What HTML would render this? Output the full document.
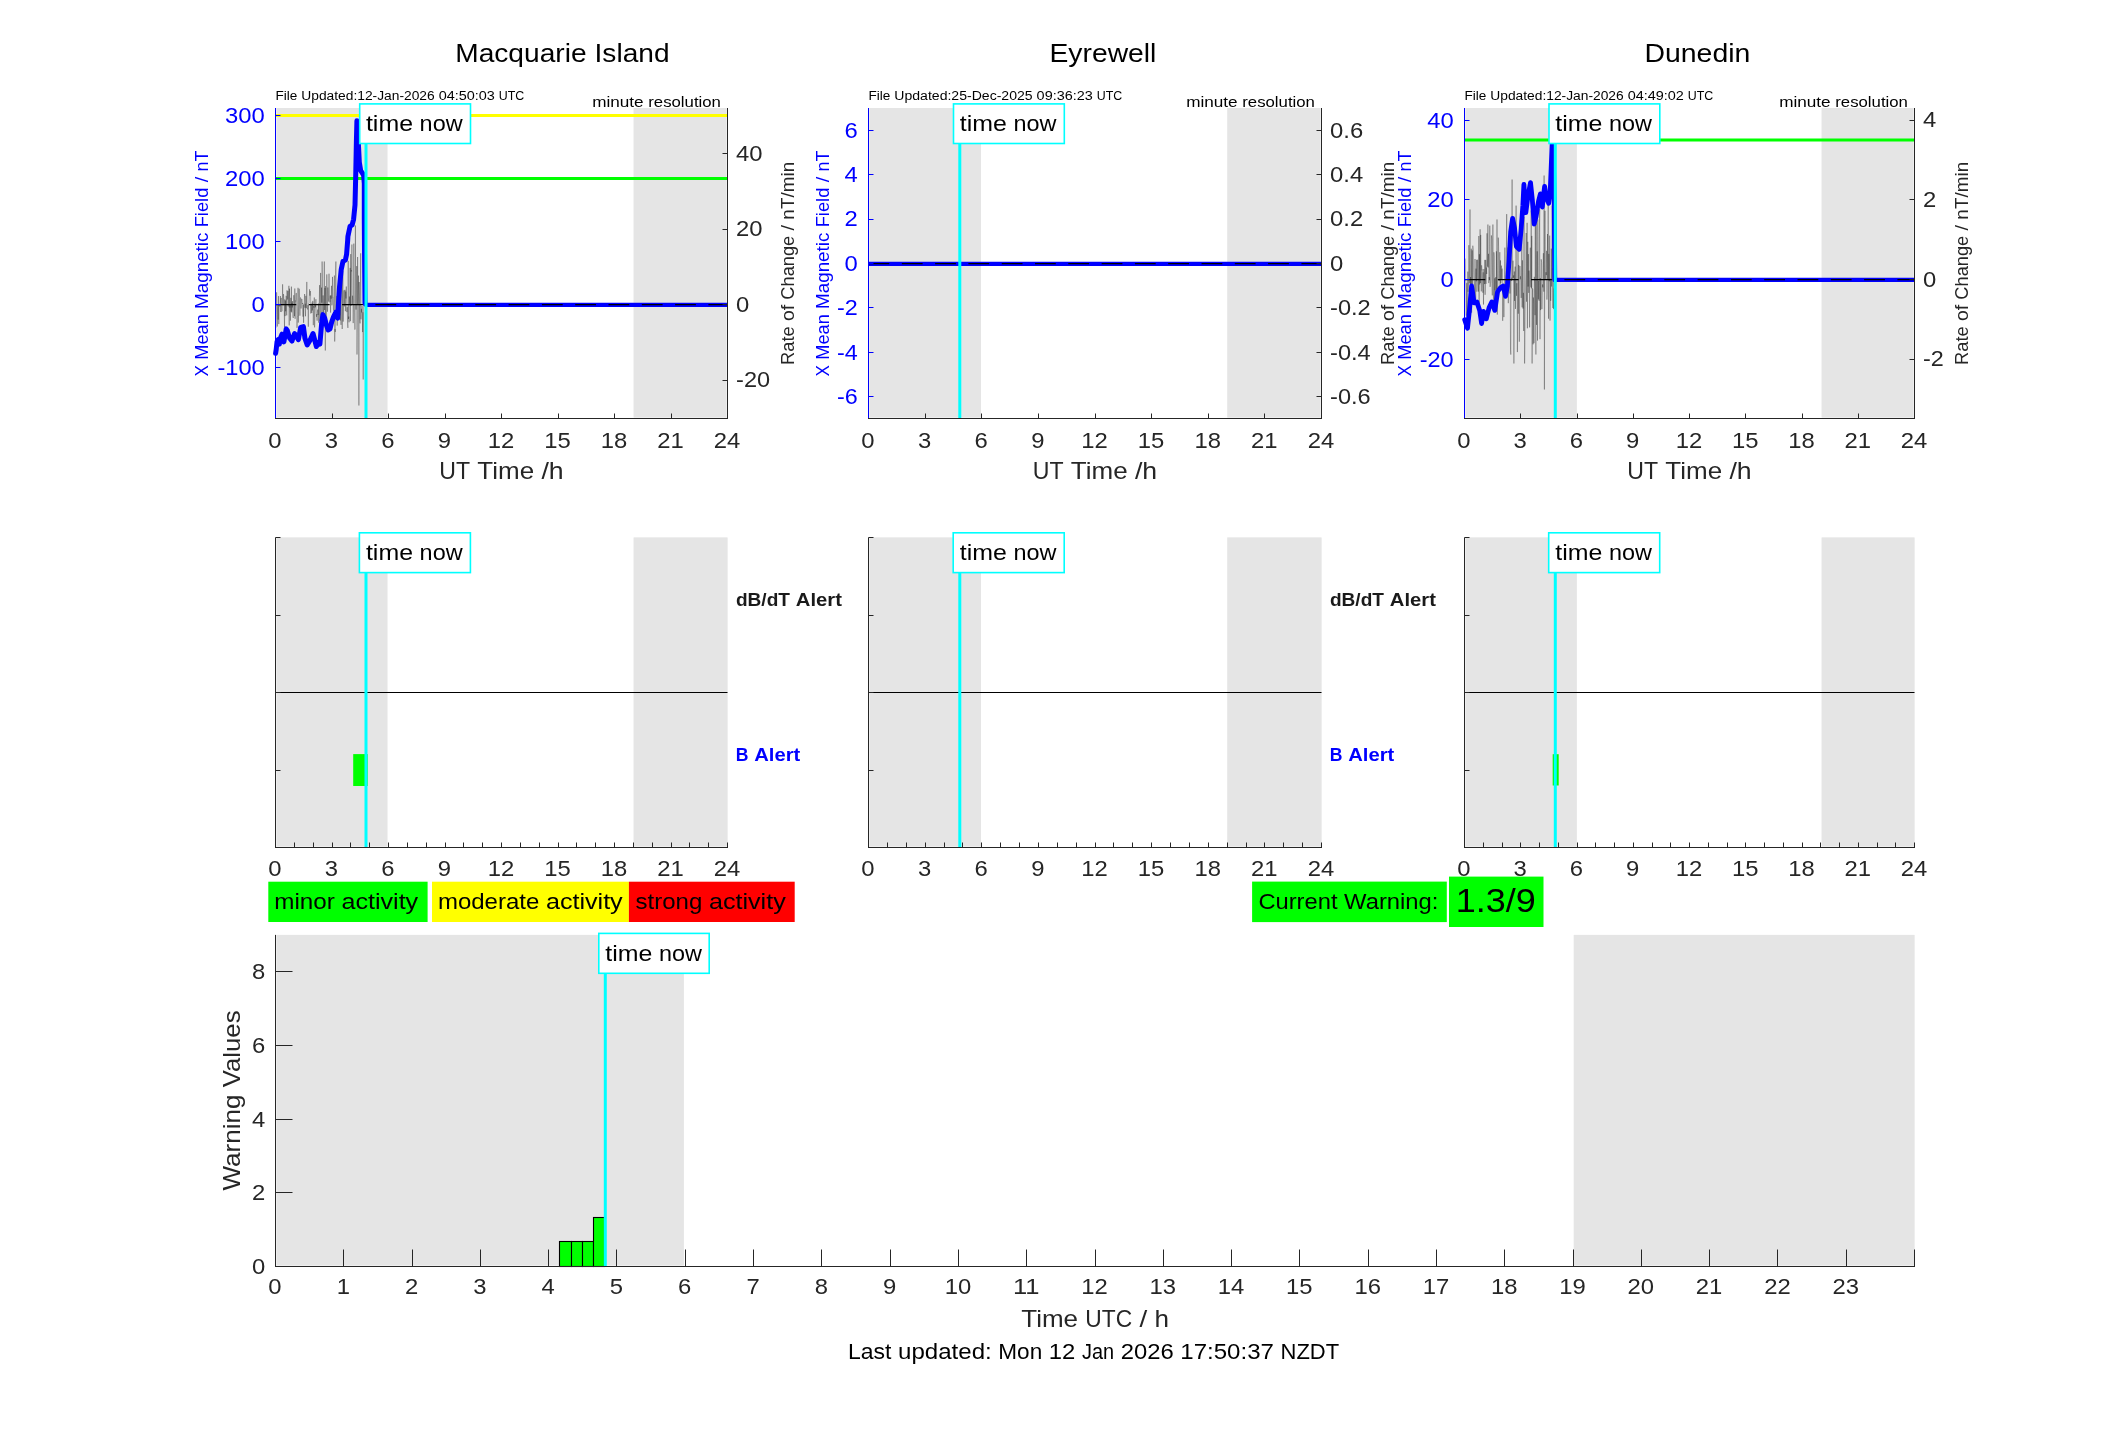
<!DOCTYPE html>
<html><head><meta charset="utf-8"><title>Geomagnetic Activity</title>
<style>
html,body{margin:0;padding:0;background:#fff;}
body{width:2117px;height:1437px;overflow:hidden;}
svg{display:block;font-family:"Liberation Sans",sans-serif;will-change:transform;}
</style></head><body>
<svg width="2117" height="1437" viewBox="0 0 2117 1437">
<rect x="0" y="0" width="2117" height="1437" fill="#ffffff"/>
<rect x="276.00" y="108.00" width="111.40" height="310.00" fill="#eeeeee" />
<rect x="277.00" y="108.00" width="110.40" height="309.00" fill="#e5e5e5" />
<rect x="633.70" y="108.00" width="93.30" height="310.00" fill="#eeeeee" />
<rect x="633.70" y="108.00" width="92.30" height="309.00" fill="#e5e5e5" />
<line x1="275.50" y1="115.50" x2="727.50" y2="115.50" stroke="#ffff00" stroke-width="3.0" />
<line x1="275.50" y1="178.50" x2="727.50" y2="178.50" stroke="#00ff00" stroke-width="3.0" />
<polyline points="276.0,327.8 276.3,314.4 276.6,292.3 276.9,302.1 277.3,326.5 277.6,306.4 277.9,305.1 278.2,319.6 278.5,296.1 278.8,324.1 279.1,307.7 279.5,304.1 279.8,306.5 280.1,302.0 280.4,296.0 280.7,312.0 281.0,299.8 281.3,297.9 281.6,311.6 282.0,311.3 282.3,310.6 282.6,284.3 282.9,302.0 283.2,305.3 283.5,294.1 283.8,297.4 284.2,308.3 284.5,327.0 284.8,299.4 285.1,316.1 285.4,300.5 285.7,311.3 286.0,295.8 286.4,296.7 286.7,315.4 287.0,290.3 287.3,299.5 287.6,298.5 287.9,291.0 288.2,306.5 288.6,294.9 288.9,285.8 289.2,325.4 289.5,288.6 289.8,307.6 290.1,305.0 290.4,320.7 290.8,297.8 291.1,311.6 291.4,286.6 291.7,312.4 292.0,302.8 292.3,307.5 292.6,301.1 292.9,316.8 293.3,318.0 293.6,295.5 293.9,295.2 294.2,302.6 294.5,316.2 294.8,288.5 295.1,318.8 295.5,300.7 295.8,301.3 296.1,293.2 296.4,293.1 296.7,308.5 297.0,327.9 297.3,317.0 297.7,315.7 298.0,287.8 298.3,322.6 298.6,311.4 298.9,304.7 299.2,288.7 299.5,297.4 299.9,315.7 300.2,303.3 300.5,297.5 300.8,298.6 301.1,308.5 301.4,301.9 301.7,299.0 302.0,299.1 302.4,303.9 302.7,303.0 303.0,316.7 303.3,304.6 303.6,322.8 303.9,305.0 304.2,303.5 304.6,294.0 304.9,307.7 305.2,303.7 305.5,316.3 305.8,295.8 306.1,307.8 306.4,308.1 306.8,281.9 307.1,307.7 307.4,309.3 307.7,309.3 308.0,305.0 308.3,326.7 308.6,303.2 309.0,302.7 309.3,295.7 309.6,289.3 309.9,295.7 310.2,291.5 310.5,291.0 310.8,313.5 311.1,305.0 311.5,309.5 311.8,313.0 312.1,302.5 312.4,310.5 312.7,300.9 313.0,302.1 313.3,325.2 313.7,306.1 314.0,307.8 314.3,297.5 314.6,327.4 314.9,318.8 315.2,304.2 315.5,307.3 315.9,299.2 316.2,309.9 316.5,316.8 316.8,314.0 317.1,320.7 317.4,312.2 317.7,309.6 318.1,315.0 318.4,303.5 318.7,322.7 319.0,307.0 319.3,299.1 319.6,285.1 319.9,321.0 320.2,302.8 320.6,272.9 320.9,300.2 321.2,324.2 321.5,287.6 321.8,302.7 322.1,261.5 322.4,278.4 322.8,318.5 323.1,295.4 323.4,308.4 323.7,316.4 324.0,293.0 324.3,261.5 324.6,310.0 325.0,287.9 325.3,350.5 325.6,286.0 325.9,303.8 326.2,325.8 326.5,306.7 326.8,274.4 327.2,301.4 327.5,311.7 327.8,287.5 328.1,294.3 328.4,301.6 328.7,295.8 329.0,273.7 329.4,294.4 329.7,302.3 330.0,301.6 330.3,295.6 330.6,312.6 330.9,295.4 331.2,298.7 331.5,285.8 331.9,305.3 332.2,302.8 332.5,276.9 332.8,297.3 333.1,297.1 333.4,309.1 333.7,310.8 334.1,291.8 334.4,275.5 334.7,341.5 335.0,328.9 335.3,331.9 335.6,270.4 335.9,261.5 336.3,316.0 336.6,309.5 336.9,296.0 337.2,325.6 337.5,305.0 337.8,296.0 338.1,291.7 338.5,283.1 338.8,307.1 339.1,307.1 339.4,301.6 339.7,315.3 340.0,271.8 340.3,320.5 340.6,302.5 341.0,324.9 341.3,298.7 341.6,268.7 341.9,272.6 342.2,329.0 342.5,298.2 342.8,270.7 343.2,321.6 343.5,308.0 343.8,292.3 344.1,290.3 344.4,306.4 344.7,297.4 345.0,289.8 345.4,311.2 345.7,291.5 346.0,298.5 346.3,286.5 346.6,303.7 346.9,312.1 347.2,307.2 347.6,323.4 347.9,327.9 348.2,260.9 348.5,318.9 348.8,316.6 349.1,322.3 349.4,296.5 349.8,305.1 350.1,267.9 350.4,321.2 350.7,254.1 351.0,305.9 351.3,270.3 351.6,271.4 351.9,244.5 352.3,304.5 352.6,295.7 352.9,299.8 353.2,323.1 353.5,304.4 353.8,243.6 354.1,290.4 354.5,312.7 354.8,329.6 355.1,329.1 355.4,225.5 355.7,303.0 356.0,309.6 356.3,303.8 356.7,266.1 357.0,354.5 357.3,321.0 357.6,257.0 357.9,304.8 358.2,291.0 358.5,275.6 358.9,405.5 359.2,282.0 359.5,301.1 359.8,319.5 360.1,323.4 360.4,287.3 360.7,253.3 361.0,319.3 361.4,308.8 361.7,312.5 362.0,306.0 362.3,307.5 362.6,332.1 362.9,312.3 363.2,379.5 363.6,306.6 363.9,288.8 364.2,293.9 364.5,270.6" fill="none" stroke="#000000" stroke-width="0.45" stroke-opacity="0.6"/>
<polyline points="275.6,353.4 276.2,349.5 277.0,341.9 278.1,339.6 279.3,344.2 280.4,338.1 282.0,334.2 283.9,341.9 286.2,328.9 287.3,330.4 289.6,338.1 291.9,341.1 294.6,333.5 298.4,339.6 300.7,327.3 303.4,326.6 304.9,338.1 307.2,344.9 309.9,340.4 313.0,333.5 316.4,346.5 319.3,341.8 319.9,344.1 321.7,322.8 322.9,314.6 324.7,318.1 326.4,325.2 328.2,330.0 330.0,328.8 331.8,321.7 333.5,316.9 335.9,312.2 337.7,318.1 338.3,306.3 339.5,287.3 341.2,269.6 343.0,261.3 345.4,260.1 346.6,254.2 347.7,240.0 347.9,236.4 350.0,226.4 352.1,225.0 353.6,219.3 355.0,205.0 355.7,176.4 356.4,140.7 356.9,120.7 357.9,133.6 358.6,147.9 359.3,162.1 360.7,170.7 363.6,175.0 364.3,183.6 364.3,219.3 364.6,262.1 365.0,303.6" fill="none" stroke="#0000ff" stroke-width="5.0" stroke-linejoin="round" stroke-linecap="round"/>
<polyline points="365.0,303.6 366.0,304.9 727.5,304.9" fill="none" stroke="#0000ff" stroke-width="4.3" stroke-linejoin="round"/>
<line x1="275.50" y1="304.50" x2="727.50" y2="304.50" stroke="#000000" stroke-width="1.25" stroke-dasharray="20.8 12.5"/>
<line x1="366.00" y1="108.00" x2="366.00" y2="418.50" stroke="#00ffff" stroke-width="3.0" />
<line x1="275.50" y1="108.00" x2="275.50" y2="419.00" stroke="#0000ff" stroke-width="1.0" />
<line x1="727.50" y1="108.00" x2="727.50" y2="419.00" stroke="#262626" stroke-width="1.0" />
<line x1="275.00" y1="418.50" x2="728.00" y2="418.50" stroke="#262626" stroke-width="1.0" />
<text y="447.80" style="font-size:22.08px;fill:#262626"><tspan x="268.37" textLength="13.25" lengthAdjust="spacingAndGlyphs">0</tspan></text>
<line x1="332.50" y1="418.50" x2="332.50" y2="413.50" stroke="#262626" stroke-width="1.0" />
<text y="447.80" style="font-size:22.08px;fill:#262626"><tspan x="324.87" textLength="13.25" lengthAdjust="spacingAndGlyphs">3</tspan></text>
<line x1="388.50" y1="418.50" x2="388.50" y2="413.50" stroke="#262626" stroke-width="1.0" />
<text y="447.80" style="font-size:22.08px;fill:#262626"><tspan x="381.37" textLength="13.25" lengthAdjust="spacingAndGlyphs">6</tspan></text>
<line x1="445.50" y1="418.50" x2="445.50" y2="413.50" stroke="#262626" stroke-width="1.0" />
<text y="447.80" style="font-size:22.08px;fill:#262626"><tspan x="437.87" textLength="13.25" lengthAdjust="spacingAndGlyphs">9</tspan></text>
<line x1="501.50" y1="418.50" x2="501.50" y2="413.50" stroke="#262626" stroke-width="1.0" />
<text y="447.80" style="font-size:22.08px;fill:#262626"><tspan x="487.75" textLength="26.51" lengthAdjust="spacingAndGlyphs">12</tspan></text>
<line x1="558.50" y1="418.50" x2="558.50" y2="413.50" stroke="#262626" stroke-width="1.0" />
<text y="447.80" style="font-size:22.08px;fill:#262626"><tspan x="544.25" textLength="26.51" lengthAdjust="spacingAndGlyphs">15</tspan></text>
<line x1="614.50" y1="418.50" x2="614.50" y2="413.50" stroke="#262626" stroke-width="1.0" />
<text y="447.80" style="font-size:22.08px;fill:#262626"><tspan x="600.75" textLength="26.51" lengthAdjust="spacingAndGlyphs">18</tspan></text>
<line x1="671.50" y1="418.50" x2="671.50" y2="413.50" stroke="#262626" stroke-width="1.0" />
<text y="447.80" style="font-size:22.08px;fill:#262626"><tspan x="657.25" textLength="26.51" lengthAdjust="spacingAndGlyphs">21</tspan></text>
<text y="447.80" style="font-size:22.08px;fill:#262626"><tspan x="713.75" textLength="26.51" lengthAdjust="spacingAndGlyphs">24</tspan></text>
<text y="479.20" style="font-size:24.07px;fill:#262626"><tspan x="439.30" textLength="30.78" lengthAdjust="spacingAndGlyphs">UT</tspan><tspan x="477.37" textLength="56.80" lengthAdjust="spacingAndGlyphs">Time</tspan><tspan x="541.45" textLength="22.25" lengthAdjust="spacingAndGlyphs">/h</tspan></text>
<line x1="275.50" y1="367.50" x2="280.50" y2="367.50" stroke="#0000ff" stroke-width="1.0" />
<text y="374.85" style="font-size:22.08px;fill:#0000ff"><tspan x="217.43" textLength="47.27" lengthAdjust="spacingAndGlyphs">-100</tspan></text>
<line x1="275.50" y1="304.50" x2="280.50" y2="304.50" stroke="#0000ff" stroke-width="1.0" />
<text y="311.85" style="font-size:22.08px;fill:#0000ff"><tspan x="251.45" textLength="13.25" lengthAdjust="spacingAndGlyphs">0</tspan></text>
<line x1="275.50" y1="241.50" x2="280.50" y2="241.50" stroke="#0000ff" stroke-width="1.0" />
<text y="248.85" style="font-size:22.08px;fill:#0000ff"><tspan x="224.94" textLength="39.76" lengthAdjust="spacingAndGlyphs">100</tspan></text>
<line x1="275.50" y1="178.50" x2="280.50" y2="178.50" stroke="#0000ff" stroke-width="1.0" />
<text y="185.85" style="font-size:22.08px;fill:#0000ff"><tspan x="224.94" textLength="39.76" lengthAdjust="spacingAndGlyphs">200</tspan></text>
<line x1="275.50" y1="115.50" x2="280.50" y2="115.50" stroke="#0000ff" stroke-width="1.0" />
<text y="122.85" style="font-size:22.08px;fill:#0000ff"><tspan x="224.94" textLength="39.76" lengthAdjust="spacingAndGlyphs">300</tspan></text>
<line x1="727.50" y1="380.50" x2="722.50" y2="380.50" stroke="#262626" stroke-width="1.0" />
<text y="387.20" style="font-size:22.08px;fill:#262626"><tspan x="736.10" textLength="34.02" lengthAdjust="spacingAndGlyphs">-20</tspan></text>
<line x1="727.50" y1="304.50" x2="722.50" y2="304.50" stroke="#262626" stroke-width="1.0" />
<text y="311.70" style="font-size:22.08px;fill:#262626"><tspan x="736.10" textLength="13.25" lengthAdjust="spacingAndGlyphs">0</tspan></text>
<line x1="727.50" y1="229.50" x2="722.50" y2="229.50" stroke="#262626" stroke-width="1.0" />
<text y="236.20" style="font-size:22.08px;fill:#262626"><tspan x="736.10" textLength="26.51" lengthAdjust="spacingAndGlyphs">20</tspan></text>
<line x1="727.50" y1="153.50" x2="722.50" y2="153.50" stroke="#262626" stroke-width="1.0" />
<text y="160.70" style="font-size:22.08px;fill:#262626"><tspan x="736.10" textLength="26.51" lengthAdjust="spacingAndGlyphs">40</tspan></text>
<text transform="translate(208.00,263.25) rotate(-90)" y="0" style="font-size:17.50px;fill:#0000ff"><tspan x="-113.13" textLength="11.42" lengthAdjust="spacingAndGlyphs">X</tspan><tspan x="-96.41" textLength="45.42" lengthAdjust="spacingAndGlyphs">Mean</tspan><tspan x="-45.70" textLength="76.33" lengthAdjust="spacingAndGlyphs">Magnetic</tspan><tspan x="35.94" textLength="39.69" lengthAdjust="spacingAndGlyphs">Field</tspan><tspan x="80.92" textLength="5.62" lengthAdjust="spacingAndGlyphs">/</tspan><tspan x="91.84" textLength="20.75" lengthAdjust="spacingAndGlyphs">nT</tspan></text>
<text transform="translate(794.00,263.25) rotate(-90)" y="0" style="font-size:17.50px;fill:#262626"><tspan x="-101.66" textLength="38.59" lengthAdjust="spacingAndGlyphs">Rate</tspan><tspan x="-57.77" textLength="16.07" lengthAdjust="spacingAndGlyphs">of</tspan><tspan x="-36.40" textLength="63.82" lengthAdjust="spacingAndGlyphs">Change</tspan><tspan x="32.72" textLength="5.62" lengthAdjust="spacingAndGlyphs">/</tspan><tspan x="43.64" textLength="57.80" lengthAdjust="spacingAndGlyphs">nT/min</tspan></text>
<text y="61.90" style="font-size:26.46px;fill:#000000"><tspan x="455.23" textLength="131.32" lengthAdjust="spacingAndGlyphs">Macquarie</tspan><tspan x="594.55" textLength="74.97" lengthAdjust="spacingAndGlyphs">Island</tspan></text>
<text y="100.00" style="font-size:13.12px;fill:#000000"><tspan x="275.50" textLength="21.83" lengthAdjust="spacingAndGlyphs">File</tspan><tspan x="301.30" textLength="133.42" lengthAdjust="spacingAndGlyphs">Updated:12-Jan-2026</tspan><tspan x="438.70" textLength="56.14" lengthAdjust="spacingAndGlyphs">04:50:03</tspan><tspan x="498.81" textLength="25.51" lengthAdjust="spacingAndGlyphs">UTC</tspan></text>
<text y="106.90" style="font-size:15.31px;fill:#000000"><tspan x="592.18" textLength="51.42" lengthAdjust="spacingAndGlyphs">minute</tspan><tspan x="648.24" textLength="72.70" lengthAdjust="spacingAndGlyphs">resolution</tspan></text>
<rect x="359.70" y="103.90" width="110.80" height="39.60" fill="#ffffff" stroke="#00ffff" stroke-width="1.6"/>
<text y="131.00" style="font-size:21.87px;fill:#000000"><tspan x="365.94" textLength="47.06" lengthAdjust="spacingAndGlyphs">time</tspan><tspan x="419.62" textLength="42.98" lengthAdjust="spacingAndGlyphs">now</tspan></text>
<rect x="869.00" y="108.00" width="112.00" height="310.00" fill="#eeeeee" />
<rect x="870.00" y="108.00" width="111.00" height="309.00" fill="#e5e5e5" />
<rect x="1227.30" y="108.00" width="93.70" height="310.00" fill="#eeeeee" />
<rect x="1227.30" y="108.00" width="92.70" height="309.00" fill="#e5e5e5" />
<line x1="868.50" y1="263.90" x2="1321.50" y2="263.90" stroke="#0000ff" stroke-width="4.3" />
<line x1="868.50" y1="263.50" x2="1321.50" y2="263.50" stroke="#000000" stroke-width="1.25" stroke-dasharray="20.8 12.5"/>
<line x1="959.80" y1="108.00" x2="959.80" y2="418.50" stroke="#00ffff" stroke-width="3.0" />
<line x1="868.50" y1="108.00" x2="868.50" y2="419.00" stroke="#0000ff" stroke-width="1.0" />
<line x1="1321.50" y1="108.00" x2="1321.50" y2="419.00" stroke="#262626" stroke-width="1.0" />
<line x1="868.00" y1="418.50" x2="1322.00" y2="418.50" stroke="#262626" stroke-width="1.0" />
<text y="447.80" style="font-size:22.08px;fill:#262626"><tspan x="861.37" textLength="13.25" lengthAdjust="spacingAndGlyphs">0</tspan></text>
<line x1="925.50" y1="418.50" x2="925.50" y2="413.50" stroke="#262626" stroke-width="1.0" />
<text y="447.80" style="font-size:22.08px;fill:#262626"><tspan x="918.00" textLength="13.25" lengthAdjust="spacingAndGlyphs">3</tspan></text>
<line x1="981.50" y1="418.50" x2="981.50" y2="413.50" stroke="#262626" stroke-width="1.0" />
<text y="447.80" style="font-size:22.08px;fill:#262626"><tspan x="974.62" textLength="13.25" lengthAdjust="spacingAndGlyphs">6</tspan></text>
<line x1="1038.50" y1="418.50" x2="1038.50" y2="413.50" stroke="#262626" stroke-width="1.0" />
<text y="447.80" style="font-size:22.08px;fill:#262626"><tspan x="1031.25" textLength="13.25" lengthAdjust="spacingAndGlyphs">9</tspan></text>
<line x1="1095.50" y1="418.50" x2="1095.50" y2="413.50" stroke="#262626" stroke-width="1.0" />
<text y="447.80" style="font-size:22.08px;fill:#262626"><tspan x="1081.25" textLength="26.51" lengthAdjust="spacingAndGlyphs">12</tspan></text>
<line x1="1151.50" y1="418.50" x2="1151.50" y2="413.50" stroke="#262626" stroke-width="1.0" />
<text y="447.80" style="font-size:22.08px;fill:#262626"><tspan x="1137.87" textLength="26.51" lengthAdjust="spacingAndGlyphs">15</tspan></text>
<line x1="1208.50" y1="418.50" x2="1208.50" y2="413.50" stroke="#262626" stroke-width="1.0" />
<text y="447.80" style="font-size:22.08px;fill:#262626"><tspan x="1194.50" textLength="26.51" lengthAdjust="spacingAndGlyphs">18</tspan></text>
<line x1="1264.50" y1="418.50" x2="1264.50" y2="413.50" stroke="#262626" stroke-width="1.0" />
<text y="447.80" style="font-size:22.08px;fill:#262626"><tspan x="1251.12" textLength="26.51" lengthAdjust="spacingAndGlyphs">21</tspan></text>
<text y="447.80" style="font-size:22.08px;fill:#262626"><tspan x="1307.75" textLength="26.51" lengthAdjust="spacingAndGlyphs">24</tspan></text>
<text y="479.20" style="font-size:24.07px;fill:#262626"><tspan x="1032.80" textLength="30.78" lengthAdjust="spacingAndGlyphs">UT</tspan><tspan x="1070.87" textLength="56.80" lengthAdjust="spacingAndGlyphs">Time</tspan><tspan x="1134.95" textLength="22.25" lengthAdjust="spacingAndGlyphs">/h</tspan></text>
<line x1="868.50" y1="396.50" x2="873.50" y2="396.50" stroke="#0000ff" stroke-width="1.0" />
<text y="404.05" style="font-size:22.08px;fill:#0000ff"><tspan x="836.93" textLength="20.77" lengthAdjust="spacingAndGlyphs">-6</tspan></text>
<line x1="868.50" y1="352.50" x2="873.50" y2="352.50" stroke="#0000ff" stroke-width="1.0" />
<text y="359.65" style="font-size:22.08px;fill:#0000ff"><tspan x="836.93" textLength="20.77" lengthAdjust="spacingAndGlyphs">-4</tspan></text>
<line x1="868.50" y1="307.50" x2="873.50" y2="307.50" stroke="#0000ff" stroke-width="1.0" />
<text y="315.25" style="font-size:22.08px;fill:#0000ff"><tspan x="836.93" textLength="20.77" lengthAdjust="spacingAndGlyphs">-2</tspan></text>
<line x1="868.50" y1="263.50" x2="873.50" y2="263.50" stroke="#0000ff" stroke-width="1.0" />
<text y="270.85" style="font-size:22.08px;fill:#0000ff"><tspan x="844.45" textLength="13.25" lengthAdjust="spacingAndGlyphs">0</tspan></text>
<line x1="868.50" y1="219.50" x2="873.50" y2="219.50" stroke="#0000ff" stroke-width="1.0" />
<text y="226.45" style="font-size:22.08px;fill:#0000ff"><tspan x="844.45" textLength="13.25" lengthAdjust="spacingAndGlyphs">2</tspan></text>
<line x1="868.50" y1="174.50" x2="873.50" y2="174.50" stroke="#0000ff" stroke-width="1.0" />
<text y="182.05" style="font-size:22.08px;fill:#0000ff"><tspan x="844.45" textLength="13.25" lengthAdjust="spacingAndGlyphs">4</tspan></text>
<line x1="868.50" y1="130.50" x2="873.50" y2="130.50" stroke="#0000ff" stroke-width="1.0" />
<text y="137.65" style="font-size:22.08px;fill:#0000ff"><tspan x="844.45" textLength="13.25" lengthAdjust="spacingAndGlyphs">6</tspan></text>
<line x1="1321.50" y1="396.50" x2="1316.50" y2="396.50" stroke="#262626" stroke-width="1.0" />
<text y="403.90" style="font-size:22.08px;fill:#262626"><tspan x="1330.10" textLength="40.64" lengthAdjust="spacingAndGlyphs">-0.6</tspan></text>
<line x1="1321.50" y1="352.50" x2="1316.50" y2="352.50" stroke="#262626" stroke-width="1.0" />
<text y="359.50" style="font-size:22.08px;fill:#262626"><tspan x="1330.10" textLength="40.64" lengthAdjust="spacingAndGlyphs">-0.4</tspan></text>
<line x1="1321.50" y1="307.50" x2="1316.50" y2="307.50" stroke="#262626" stroke-width="1.0" />
<text y="315.10" style="font-size:22.08px;fill:#262626"><tspan x="1330.10" textLength="40.64" lengthAdjust="spacingAndGlyphs">-0.2</tspan></text>
<line x1="1321.50" y1="263.50" x2="1316.50" y2="263.50" stroke="#262626" stroke-width="1.0" />
<text y="270.70" style="font-size:22.08px;fill:#262626"><tspan x="1330.10" textLength="13.25" lengthAdjust="spacingAndGlyphs">0</tspan></text>
<line x1="1321.50" y1="219.50" x2="1316.50" y2="219.50" stroke="#262626" stroke-width="1.0" />
<text y="226.30" style="font-size:22.08px;fill:#262626"><tspan x="1330.10" textLength="33.13" lengthAdjust="spacingAndGlyphs">0.2</tspan></text>
<line x1="1321.50" y1="174.50" x2="1316.50" y2="174.50" stroke="#262626" stroke-width="1.0" />
<text y="181.90" style="font-size:22.08px;fill:#262626"><tspan x="1330.10" textLength="33.13" lengthAdjust="spacingAndGlyphs">0.4</tspan></text>
<line x1="1321.50" y1="130.50" x2="1316.50" y2="130.50" stroke="#262626" stroke-width="1.0" />
<text y="137.50" style="font-size:22.08px;fill:#262626"><tspan x="1330.10" textLength="33.13" lengthAdjust="spacingAndGlyphs">0.6</tspan></text>
<text transform="translate(829.00,263.25) rotate(-90)" y="0" style="font-size:17.50px;fill:#0000ff"><tspan x="-113.13" textLength="11.42" lengthAdjust="spacingAndGlyphs">X</tspan><tspan x="-96.41" textLength="45.42" lengthAdjust="spacingAndGlyphs">Mean</tspan><tspan x="-45.70" textLength="76.33" lengthAdjust="spacingAndGlyphs">Magnetic</tspan><tspan x="35.94" textLength="39.69" lengthAdjust="spacingAndGlyphs">Field</tspan><tspan x="80.92" textLength="5.62" lengthAdjust="spacingAndGlyphs">/</tspan><tspan x="91.84" textLength="20.75" lengthAdjust="spacingAndGlyphs">nT</tspan></text>
<text transform="translate(1394.00,263.25) rotate(-90)" y="0" style="font-size:17.50px;fill:#262626"><tspan x="-101.66" textLength="38.59" lengthAdjust="spacingAndGlyphs">Rate</tspan><tspan x="-57.77" textLength="16.07" lengthAdjust="spacingAndGlyphs">of</tspan><tspan x="-36.40" textLength="63.82" lengthAdjust="spacingAndGlyphs">Change</tspan><tspan x="32.72" textLength="5.62" lengthAdjust="spacingAndGlyphs">/</tspan><tspan x="43.64" textLength="57.80" lengthAdjust="spacingAndGlyphs">nT/min</tspan></text>
<text y="61.90" style="font-size:26.46px;fill:#000000"><tspan x="1049.53" textLength="106.82" lengthAdjust="spacingAndGlyphs">Eyrewell</tspan></text>
<text y="100.00" style="font-size:13.12px;fill:#000000"><tspan x="868.50" textLength="21.83" lengthAdjust="spacingAndGlyphs">File</tspan><tspan x="894.30" textLength="138.34" lengthAdjust="spacingAndGlyphs">Updated:25-Dec-2025</tspan><tspan x="1036.62" textLength="56.14" lengthAdjust="spacingAndGlyphs">09:36:23</tspan><tspan x="1096.73" textLength="25.51" lengthAdjust="spacingAndGlyphs">UTC</tspan></text>
<text y="106.90" style="font-size:15.31px;fill:#000000"><tspan x="1186.18" textLength="51.42" lengthAdjust="spacingAndGlyphs">minute</tspan><tspan x="1242.24" textLength="72.70" lengthAdjust="spacingAndGlyphs">resolution</tspan></text>
<rect x="953.50" y="103.90" width="110.80" height="39.60" fill="#ffffff" stroke="#00ffff" stroke-width="1.6"/>
<text y="131.00" style="font-size:21.87px;fill:#000000"><tspan x="959.74" textLength="47.06" lengthAdjust="spacingAndGlyphs">time</tspan><tspan x="1013.42" textLength="42.98" lengthAdjust="spacingAndGlyphs">now</tspan></text>
<rect x="1465.00" y="108.00" width="111.80" height="310.00" fill="#eeeeee" />
<rect x="1466.00" y="108.00" width="110.80" height="309.00" fill="#e5e5e5" />
<rect x="1821.70" y="108.00" width="92.30" height="310.00" fill="#eeeeee" />
<rect x="1821.70" y="108.00" width="91.30" height="309.00" fill="#e5e5e5" />
<line x1="1464.50" y1="140.09" x2="1914.50" y2="140.09" stroke="#00ff00" stroke-width="3.0" />
<polyline points="1465.0,259.2 1465.3,258.8 1465.6,278.8 1465.9,288.6 1466.3,315.6 1466.6,283.8 1466.9,282.8 1467.2,318.4 1467.5,317.2 1467.8,271.6 1468.1,291.8 1468.5,281.8 1468.8,245.2 1469.1,254.3 1469.4,283.4 1469.7,279.7 1470.0,209.5 1470.3,313.6 1470.6,277.0 1471.0,289.4 1471.3,248.7 1471.6,312.7 1471.9,269.9 1472.2,250.4 1472.5,292.3 1472.8,245.7 1473.2,250.0 1473.5,267.9 1473.8,279.4 1474.1,281.7 1474.4,294.1 1474.7,286.5 1475.0,259.0 1475.4,286.9 1475.7,299.1 1476.0,268.6 1476.3,281.3 1476.6,259.8 1476.9,291.7 1477.2,286.7 1477.6,259.7 1477.9,279.2 1478.2,279.2 1478.5,291.6 1478.8,236.0 1479.1,308.0 1479.4,254.2 1479.7,284.5 1480.1,229.3 1480.4,283.1 1480.7,234.9 1481.0,276.9 1481.3,291.4 1481.6,265.3 1481.9,270.2 1482.3,269.6 1482.6,280.7 1482.9,292.7 1483.2,272.3 1483.5,304.5 1483.8,269.0 1484.1,272.7 1484.5,284.1 1484.8,259.9 1485.1,294.8 1485.4,283.5 1485.7,259.9 1486.0,283.9 1486.3,267.5 1486.7,274.0 1487.0,233.3 1487.3,266.7 1487.6,258.7 1487.9,224.5 1488.2,267.5 1488.5,253.8 1488.8,283.1 1489.2,277.1 1489.5,280.2 1489.8,225.7 1490.1,286.9 1490.4,283.0 1490.7,282.3 1491.0,272.9 1491.4,235.4 1491.7,238.9 1492.0,286.4 1492.3,295.4 1492.6,257.0 1492.9,224.5 1493.2,282.9 1493.6,310.6 1493.9,252.3 1494.2,256.3 1494.5,300.1 1494.8,278.3 1495.1,290.2 1495.4,279.8 1495.8,277.1 1496.1,304.6 1496.4,251.3 1496.7,289.0 1497.0,219.5 1497.3,314.6 1497.6,294.7 1497.9,285.7 1498.3,237.6 1498.6,246.8 1498.9,280.1 1499.2,281.0 1499.5,270.7 1499.8,252.2 1500.1,285.9 1500.5,260.4 1500.8,283.2 1501.1,275.0 1501.4,265.6 1501.7,279.4 1502.0,269.1 1502.3,268.7 1502.7,320.8 1503.0,299.1 1503.3,293.3 1503.6,294.1 1503.9,317.1 1504.2,293.0 1504.5,274.6 1504.9,247.6 1505.2,290.5 1505.5,289.0 1505.8,285.1 1506.1,265.8 1506.4,253.6 1506.7,214.1 1507.0,288.2 1507.4,263.2 1507.7,291.2 1508.0,247.5 1508.3,303.2 1508.6,238.0 1508.9,279.2 1509.2,261.2 1509.6,277.3 1509.9,293.5 1510.2,279.9 1510.5,349.7 1510.8,354.6 1511.1,277.6 1511.4,280.9 1511.8,245.9 1512.1,179.5 1512.4,280.1 1512.7,272.8 1513.0,260.7 1513.3,277.9 1513.6,275.4 1513.9,363.5 1514.3,271.5 1514.6,300.9 1514.9,276.1 1515.2,266.6 1515.5,308.9 1515.8,258.7 1516.1,205.6 1516.5,295.8 1516.8,283.2 1517.1,299.3 1517.4,352.1 1517.7,301.1 1518.0,240.3 1518.3,313.7 1518.7,264.9 1519.0,300.8 1519.3,341.7 1519.6,308.7 1519.9,266.0 1520.2,279.4 1520.5,276.3 1520.9,282.5 1521.2,297.9 1521.5,280.2 1521.8,222.5 1522.1,307.3 1522.4,260.3 1522.7,300.6 1523.0,308.6 1523.4,292.8 1523.7,331.0 1524.0,216.9 1524.3,289.1 1524.6,363.5 1524.9,344.2 1525.2,305.4 1525.6,285.0 1525.9,272.6 1526.2,233.0 1526.5,301.7 1526.8,271.8 1527.1,222.8 1527.4,328.3 1527.8,241.8 1528.1,286.6 1528.4,254.1 1528.7,292.9 1529.0,270.6 1529.3,279.1 1529.6,327.4 1530.0,257.1 1530.3,247.7 1530.6,280.6 1530.9,287.3 1531.2,210.5 1531.5,288.4 1531.8,235.9 1532.1,363.5 1532.5,288.4 1532.8,289.4 1533.1,344.4 1533.4,297.5 1533.7,303.3 1534.0,343.2 1534.3,276.8 1534.7,283.3 1535.0,315.2 1535.3,223.9 1535.6,319.9 1535.9,354.5 1536.2,208.6 1536.5,324.9 1536.9,285.6 1537.2,251.3 1537.5,340.6 1537.8,219.4 1538.1,265.4 1538.4,299.4 1538.7,280.7 1539.1,300.8 1539.4,232.5 1539.7,209.2 1540.0,339.2 1540.3,278.0 1540.6,310.1 1540.9,286.0 1541.2,259.3 1541.6,262.5 1541.9,309.1 1542.2,292.0 1542.5,284.5 1542.8,287.4 1543.1,265.6 1543.4,253.2 1543.8,291.7 1544.1,175.5 1544.4,389.5 1544.7,289.0 1545.0,210.8 1545.3,279.4 1545.6,275.8 1546.0,272.2 1546.3,275.1 1546.6,250.8 1546.9,299.6 1547.2,293.5 1547.5,234.0 1547.8,279.5 1548.2,199.5 1548.5,318.7 1548.8,253.9 1549.1,281.2 1549.4,281.1 1549.7,235.6 1550.0,320.6 1550.3,278.6 1550.7,300.8 1551.0,291.0 1551.3,248.7 1551.6,286.5 1551.9,253.8 1552.2,205.6 1552.5,266.0 1552.9,308.0 1553.2,268.0 1553.5,309.1 1553.8,288.4" fill="none" stroke="#000000" stroke-width="0.45" stroke-opacity="0.6"/>
<polyline points="1464.7,319.8 1467.5,328.2 1469.4,310.4 1471.6,286.0 1474.1,302.9 1476.9,301.9 1479.7,310.4 1481.6,323.5 1483.5,311.3 1486.3,318.8 1489.1,307.6 1491.9,301.9 1494.8,310.4 1497.6,291.6 1500.4,287.8 1503.2,286.0 1505.5,296.3 1507.4,286.0 1509.2,257.8 1510.7,231.5 1512.6,218.3 1514.5,227.7 1516.4,246.5 1519.2,249.3 1521.1,229.6 1522.9,205.2 1523.9,184.5 1525.8,212.7 1528.0,195.8 1530.5,182.6 1532.3,199.5 1534.2,224.0 1536.1,216.4 1538.5,201.4 1540.4,193.9 1542.3,207.0 1544.6,186.4 1546.4,197.6 1548.7,203.3 1550.2,192.0 1552.1,145.0 1552.8,130.0 1554.2,200.0 1554.8,279.9" fill="none" stroke="#0000ff" stroke-width="4.8" stroke-linejoin="round" stroke-linecap="round"/>
<polyline points="1554.8,279.9 1914.5,279.9" fill="none" stroke="#0000ff" stroke-width="4.3" stroke-linejoin="round"/>
<line x1="1464.50" y1="279.50" x2="1914.50" y2="279.50" stroke="#000000" stroke-width="1.25" stroke-dasharray="20.8 12.5"/>
<line x1="1555.30" y1="108.00" x2="1555.30" y2="418.50" stroke="#00ffff" stroke-width="3.0" />
<line x1="1464.50" y1="108.00" x2="1464.50" y2="419.00" stroke="#0000ff" stroke-width="1.0" />
<line x1="1914.50" y1="108.00" x2="1914.50" y2="419.00" stroke="#262626" stroke-width="1.0" />
<line x1="1464.00" y1="418.50" x2="1915.00" y2="418.50" stroke="#262626" stroke-width="1.0" />
<text y="447.80" style="font-size:22.08px;fill:#262626"><tspan x="1457.37" textLength="13.25" lengthAdjust="spacingAndGlyphs">0</tspan></text>
<line x1="1520.50" y1="418.50" x2="1520.50" y2="413.50" stroke="#262626" stroke-width="1.0" />
<text y="447.80" style="font-size:22.08px;fill:#262626"><tspan x="1513.62" textLength="13.25" lengthAdjust="spacingAndGlyphs">3</tspan></text>
<line x1="1577.50" y1="418.50" x2="1577.50" y2="413.50" stroke="#262626" stroke-width="1.0" />
<text y="447.80" style="font-size:22.08px;fill:#262626"><tspan x="1569.87" textLength="13.25" lengthAdjust="spacingAndGlyphs">6</tspan></text>
<line x1="1633.50" y1="418.50" x2="1633.50" y2="413.50" stroke="#262626" stroke-width="1.0" />
<text y="447.80" style="font-size:22.08px;fill:#262626"><tspan x="1626.12" textLength="13.25" lengthAdjust="spacingAndGlyphs">9</tspan></text>
<line x1="1689.50" y1="418.50" x2="1689.50" y2="413.50" stroke="#262626" stroke-width="1.0" />
<text y="447.80" style="font-size:22.08px;fill:#262626"><tspan x="1675.75" textLength="26.51" lengthAdjust="spacingAndGlyphs">12</tspan></text>
<line x1="1745.50" y1="418.50" x2="1745.50" y2="413.50" stroke="#262626" stroke-width="1.0" />
<text y="447.80" style="font-size:22.08px;fill:#262626"><tspan x="1732.00" textLength="26.51" lengthAdjust="spacingAndGlyphs">15</tspan></text>
<line x1="1802.50" y1="418.50" x2="1802.50" y2="413.50" stroke="#262626" stroke-width="1.0" />
<text y="447.80" style="font-size:22.08px;fill:#262626"><tspan x="1788.25" textLength="26.51" lengthAdjust="spacingAndGlyphs">18</tspan></text>
<line x1="1858.50" y1="418.50" x2="1858.50" y2="413.50" stroke="#262626" stroke-width="1.0" />
<text y="447.80" style="font-size:22.08px;fill:#262626"><tspan x="1844.50" textLength="26.51" lengthAdjust="spacingAndGlyphs">21</tspan></text>
<text y="447.80" style="font-size:22.08px;fill:#262626"><tspan x="1900.75" textLength="26.51" lengthAdjust="spacingAndGlyphs">24</tspan></text>
<text y="479.20" style="font-size:24.07px;fill:#262626"><tspan x="1627.30" textLength="30.78" lengthAdjust="spacingAndGlyphs">UT</tspan><tspan x="1665.37" textLength="56.80" lengthAdjust="spacingAndGlyphs">Time</tspan><tspan x="1729.45" textLength="22.25" lengthAdjust="spacingAndGlyphs">/h</tspan></text>
<line x1="1464.50" y1="359.50" x2="1469.50" y2="359.50" stroke="#0000ff" stroke-width="1.0" />
<text y="366.51" style="font-size:22.08px;fill:#0000ff"><tspan x="1419.68" textLength="34.02" lengthAdjust="spacingAndGlyphs">-20</tspan></text>
<line x1="1464.50" y1="279.50" x2="1469.50" y2="279.50" stroke="#0000ff" stroke-width="1.0" />
<text y="286.85" style="font-size:22.08px;fill:#0000ff"><tspan x="1440.45" textLength="13.25" lengthAdjust="spacingAndGlyphs">0</tspan></text>
<line x1="1464.50" y1="199.50" x2="1469.50" y2="199.50" stroke="#0000ff" stroke-width="1.0" />
<text y="207.19" style="font-size:22.08px;fill:#0000ff"><tspan x="1427.19" textLength="26.51" lengthAdjust="spacingAndGlyphs">20</tspan></text>
<line x1="1464.50" y1="120.50" x2="1469.50" y2="120.50" stroke="#0000ff" stroke-width="1.0" />
<text y="127.53" style="font-size:22.08px;fill:#0000ff"><tspan x="1427.19" textLength="26.51" lengthAdjust="spacingAndGlyphs">40</tspan></text>
<line x1="1914.50" y1="359.50" x2="1909.50" y2="359.50" stroke="#262626" stroke-width="1.0" />
<text y="366.36" style="font-size:22.08px;fill:#262626"><tspan x="1923.10" textLength="20.77" lengthAdjust="spacingAndGlyphs">-2</tspan></text>
<line x1="1914.50" y1="279.50" x2="1909.50" y2="279.50" stroke="#262626" stroke-width="1.0" />
<text y="286.70" style="font-size:22.08px;fill:#262626"><tspan x="1923.10" textLength="13.25" lengthAdjust="spacingAndGlyphs">0</tspan></text>
<line x1="1914.50" y1="199.50" x2="1909.50" y2="199.50" stroke="#262626" stroke-width="1.0" />
<text y="207.04" style="font-size:22.08px;fill:#262626"><tspan x="1923.10" textLength="13.25" lengthAdjust="spacingAndGlyphs">2</tspan></text>
<line x1="1914.50" y1="120.50" x2="1909.50" y2="120.50" stroke="#262626" stroke-width="1.0" />
<text y="127.38" style="font-size:22.08px;fill:#262626"><tspan x="1923.10" textLength="13.25" lengthAdjust="spacingAndGlyphs">4</tspan></text>
<text transform="translate(1411.00,263.25) rotate(-90)" y="0" style="font-size:17.50px;fill:#0000ff"><tspan x="-113.13" textLength="11.42" lengthAdjust="spacingAndGlyphs">X</tspan><tspan x="-96.41" textLength="45.42" lengthAdjust="spacingAndGlyphs">Mean</tspan><tspan x="-45.70" textLength="76.33" lengthAdjust="spacingAndGlyphs">Magnetic</tspan><tspan x="35.94" textLength="39.69" lengthAdjust="spacingAndGlyphs">Field</tspan><tspan x="80.92" textLength="5.62" lengthAdjust="spacingAndGlyphs">/</tspan><tspan x="91.84" textLength="20.75" lengthAdjust="spacingAndGlyphs">nT</tspan></text>
<text transform="translate(1967.60,263.25) rotate(-90)" y="0" style="font-size:17.50px;fill:#262626"><tspan x="-101.66" textLength="38.59" lengthAdjust="spacingAndGlyphs">Rate</tspan><tspan x="-57.77" textLength="16.07" lengthAdjust="spacingAndGlyphs">of</tspan><tspan x="-36.40" textLength="63.82" lengthAdjust="spacingAndGlyphs">Change</tspan><tspan x="32.72" textLength="5.62" lengthAdjust="spacingAndGlyphs">/</tspan><tspan x="43.64" textLength="57.80" lengthAdjust="spacingAndGlyphs">nT/min</tspan></text>
<text y="61.90" style="font-size:26.46px;fill:#000000"><tspan x="1644.53" textLength="105.82" lengthAdjust="spacingAndGlyphs">Dunedin</tspan></text>
<text y="100.00" style="font-size:13.12px;fill:#000000"><tspan x="1464.50" textLength="21.83" lengthAdjust="spacingAndGlyphs">File</tspan><tspan x="1490.30" textLength="133.42" lengthAdjust="spacingAndGlyphs">Updated:12-Jan-2026</tspan><tspan x="1627.70" textLength="56.14" lengthAdjust="spacingAndGlyphs">04:49:02</tspan><tspan x="1687.81" textLength="25.51" lengthAdjust="spacingAndGlyphs">UTC</tspan></text>
<text y="106.90" style="font-size:15.31px;fill:#000000"><tspan x="1779.18" textLength="51.42" lengthAdjust="spacingAndGlyphs">minute</tspan><tspan x="1835.24" textLength="72.70" lengthAdjust="spacingAndGlyphs">resolution</tspan></text>
<rect x="1549.00" y="103.90" width="110.80" height="39.60" fill="#ffffff" stroke="#00ffff" stroke-width="1.6"/>
<text y="131.00" style="font-size:21.87px;fill:#000000"><tspan x="1555.24" textLength="47.06" lengthAdjust="spacingAndGlyphs">time</tspan><tspan x="1608.92" textLength="42.98" lengthAdjust="spacingAndGlyphs">now</tspan></text>
<rect x="276.00" y="537.50" width="111.40" height="309.50" fill="#eeeeee" />
<rect x="277.00" y="537.50" width="110.40" height="308.50" fill="#e5e5e5" />
<rect x="633.70" y="537.50" width="93.80" height="309.50" fill="#eeeeee" />
<rect x="633.70" y="537.50" width="93.80" height="308.50" fill="#e5e5e5" />
<line x1="275.50" y1="692.50" x2="727.50" y2="692.50" stroke="#000000" stroke-width="1.0" />
<rect x="353.20" y="754.10" width="14.50" height="31.90" fill="#00ff00" />
<line x1="366.00" y1="537.50" x2="366.00" y2="847.50" stroke="#00ffff" stroke-width="3.0" />
<line x1="275.50" y1="537.50" x2="275.50" y2="848.00" stroke="#262626" stroke-width="1.0" />
<line x1="275.00" y1="847.50" x2="728.00" y2="847.50" stroke="#262626" stroke-width="1.0" />
<line x1="275.50" y1="537.50" x2="280.50" y2="537.50" stroke="#262626" stroke-width="1.0" />
<line x1="275.50" y1="615.50" x2="280.50" y2="615.50" stroke="#262626" stroke-width="1.0" />
<line x1="275.50" y1="692.50" x2="280.50" y2="692.50" stroke="#262626" stroke-width="1.0" />
<line x1="275.50" y1="770.50" x2="280.50" y2="770.50" stroke="#262626" stroke-width="1.0" />
<line x1="275.50" y1="847.50" x2="280.50" y2="847.50" stroke="#262626" stroke-width="1.0" />
<text y="876.10" style="font-size:22.08px;fill:#262626"><tspan x="268.27" textLength="13.25" lengthAdjust="spacingAndGlyphs">0</tspan></text>
<line x1="294.50" y1="847.50" x2="294.50" y2="842.50" stroke="#262626" stroke-width="1.0" />
<line x1="313.50" y1="847.50" x2="313.50" y2="842.50" stroke="#262626" stroke-width="1.0" />
<line x1="332.50" y1="847.50" x2="332.50" y2="842.50" stroke="#262626" stroke-width="1.0" />
<text y="876.10" style="font-size:22.08px;fill:#262626"><tspan x="324.77" textLength="13.25" lengthAdjust="spacingAndGlyphs">3</tspan></text>
<line x1="350.50" y1="847.50" x2="350.50" y2="842.50" stroke="#262626" stroke-width="1.0" />
<line x1="369.50" y1="847.50" x2="369.50" y2="842.50" stroke="#262626" stroke-width="1.0" />
<line x1="388.50" y1="847.50" x2="388.50" y2="842.50" stroke="#262626" stroke-width="1.0" />
<text y="876.10" style="font-size:22.08px;fill:#262626"><tspan x="381.27" textLength="13.25" lengthAdjust="spacingAndGlyphs">6</tspan></text>
<line x1="407.50" y1="847.50" x2="407.50" y2="842.50" stroke="#262626" stroke-width="1.0" />
<line x1="426.50" y1="847.50" x2="426.50" y2="842.50" stroke="#262626" stroke-width="1.0" />
<line x1="445.50" y1="847.50" x2="445.50" y2="842.50" stroke="#262626" stroke-width="1.0" />
<text y="876.10" style="font-size:22.08px;fill:#262626"><tspan x="437.77" textLength="13.25" lengthAdjust="spacingAndGlyphs">9</tspan></text>
<line x1="463.50" y1="847.50" x2="463.50" y2="842.50" stroke="#262626" stroke-width="1.0" />
<line x1="482.50" y1="847.50" x2="482.50" y2="842.50" stroke="#262626" stroke-width="1.0" />
<line x1="501.50" y1="847.50" x2="501.50" y2="842.50" stroke="#262626" stroke-width="1.0" />
<text y="876.10" style="font-size:22.08px;fill:#262626"><tspan x="487.65" textLength="26.51" lengthAdjust="spacingAndGlyphs">12</tspan></text>
<line x1="520.50" y1="847.50" x2="520.50" y2="842.50" stroke="#262626" stroke-width="1.0" />
<line x1="539.50" y1="847.50" x2="539.50" y2="842.50" stroke="#262626" stroke-width="1.0" />
<line x1="558.50" y1="847.50" x2="558.50" y2="842.50" stroke="#262626" stroke-width="1.0" />
<text y="876.10" style="font-size:22.08px;fill:#262626"><tspan x="544.15" textLength="26.51" lengthAdjust="spacingAndGlyphs">15</tspan></text>
<line x1="576.50" y1="847.50" x2="576.50" y2="842.50" stroke="#262626" stroke-width="1.0" />
<line x1="595.50" y1="847.50" x2="595.50" y2="842.50" stroke="#262626" stroke-width="1.0" />
<line x1="614.50" y1="847.50" x2="614.50" y2="842.50" stroke="#262626" stroke-width="1.0" />
<text y="876.10" style="font-size:22.08px;fill:#262626"><tspan x="600.65" textLength="26.51" lengthAdjust="spacingAndGlyphs">18</tspan></text>
<line x1="633.50" y1="847.50" x2="633.50" y2="842.50" stroke="#262626" stroke-width="1.0" />
<line x1="652.50" y1="847.50" x2="652.50" y2="842.50" stroke="#262626" stroke-width="1.0" />
<line x1="671.50" y1="847.50" x2="671.50" y2="842.50" stroke="#262626" stroke-width="1.0" />
<text y="876.10" style="font-size:22.08px;fill:#262626"><tspan x="657.15" textLength="26.51" lengthAdjust="spacingAndGlyphs">21</tspan></text>
<line x1="689.50" y1="847.50" x2="689.50" y2="842.50" stroke="#262626" stroke-width="1.0" />
<line x1="708.50" y1="847.50" x2="708.50" y2="842.50" stroke="#262626" stroke-width="1.0" />
<line x1="727.50" y1="847.50" x2="727.50" y2="842.50" stroke="#262626" stroke-width="1.0" />
<text y="876.10" style="font-size:22.08px;fill:#262626"><tspan x="713.65" textLength="26.51" lengthAdjust="spacingAndGlyphs">24</tspan></text>
<text y="605.90" style="font-size:17.50px;font-weight:bold;fill:#1a1a1a"><tspan x="735.95" textLength="54.03" lengthAdjust="spacingAndGlyphs">dB/dT</tspan><tspan x="795.79" textLength="46.11" lengthAdjust="spacingAndGlyphs">Alert</tspan></text>
<text y="760.80" style="font-size:17.50px;font-weight:bold;fill:#0000ff"><tspan x="735.67" textLength="12.71" lengthAdjust="spacingAndGlyphs">B</tspan><tspan x="754.18" textLength="46.11" lengthAdjust="spacingAndGlyphs">Alert</tspan></text>
<rect x="359.40" y="532.80" width="111.00" height="39.80" fill="#ffffff" stroke="#00ffff" stroke-width="1.6"/>
<text y="560.10" style="font-size:21.87px;fill:#000000"><tspan x="365.94" textLength="47.06" lengthAdjust="spacingAndGlyphs">time</tspan><tspan x="419.62" textLength="42.98" lengthAdjust="spacingAndGlyphs">now</tspan></text>
<rect x="869.00" y="537.50" width="112.00" height="309.50" fill="#eeeeee" />
<rect x="870.00" y="537.50" width="111.00" height="308.50" fill="#e5e5e5" />
<rect x="1227.30" y="537.50" width="94.20" height="309.50" fill="#eeeeee" />
<rect x="1227.30" y="537.50" width="94.20" height="308.50" fill="#e5e5e5" />
<line x1="868.50" y1="692.50" x2="1321.50" y2="692.50" stroke="#000000" stroke-width="1.0" />
<line x1="959.80" y1="537.50" x2="959.80" y2="847.50" stroke="#00ffff" stroke-width="3.0" />
<line x1="868.50" y1="537.50" x2="868.50" y2="848.00" stroke="#262626" stroke-width="1.0" />
<line x1="868.00" y1="847.50" x2="1322.00" y2="847.50" stroke="#262626" stroke-width="1.0" />
<line x1="868.50" y1="537.50" x2="873.50" y2="537.50" stroke="#262626" stroke-width="1.0" />
<line x1="868.50" y1="615.50" x2="873.50" y2="615.50" stroke="#262626" stroke-width="1.0" />
<line x1="868.50" y1="692.50" x2="873.50" y2="692.50" stroke="#262626" stroke-width="1.0" />
<line x1="868.50" y1="770.50" x2="873.50" y2="770.50" stroke="#262626" stroke-width="1.0" />
<line x1="868.50" y1="847.50" x2="873.50" y2="847.50" stroke="#262626" stroke-width="1.0" />
<text y="876.10" style="font-size:22.08px;fill:#262626"><tspan x="861.27" textLength="13.25" lengthAdjust="spacingAndGlyphs">0</tspan></text>
<line x1="887.50" y1="847.50" x2="887.50" y2="842.50" stroke="#262626" stroke-width="1.0" />
<line x1="906.50" y1="847.50" x2="906.50" y2="842.50" stroke="#262626" stroke-width="1.0" />
<line x1="925.50" y1="847.50" x2="925.50" y2="842.50" stroke="#262626" stroke-width="1.0" />
<text y="876.10" style="font-size:22.08px;fill:#262626"><tspan x="917.90" textLength="13.25" lengthAdjust="spacingAndGlyphs">3</tspan></text>
<line x1="944.50" y1="847.50" x2="944.50" y2="842.50" stroke="#262626" stroke-width="1.0" />
<line x1="962.50" y1="847.50" x2="962.50" y2="842.50" stroke="#262626" stroke-width="1.0" />
<line x1="981.50" y1="847.50" x2="981.50" y2="842.50" stroke="#262626" stroke-width="1.0" />
<text y="876.10" style="font-size:22.08px;fill:#262626"><tspan x="974.52" textLength="13.25" lengthAdjust="spacingAndGlyphs">6</tspan></text>
<line x1="1000.50" y1="847.50" x2="1000.50" y2="842.50" stroke="#262626" stroke-width="1.0" />
<line x1="1019.50" y1="847.50" x2="1019.50" y2="842.50" stroke="#262626" stroke-width="1.0" />
<line x1="1038.50" y1="847.50" x2="1038.50" y2="842.50" stroke="#262626" stroke-width="1.0" />
<text y="876.10" style="font-size:22.08px;fill:#262626"><tspan x="1031.15" textLength="13.25" lengthAdjust="spacingAndGlyphs">9</tspan></text>
<line x1="1057.50" y1="847.50" x2="1057.50" y2="842.50" stroke="#262626" stroke-width="1.0" />
<line x1="1076.50" y1="847.50" x2="1076.50" y2="842.50" stroke="#262626" stroke-width="1.0" />
<line x1="1095.50" y1="847.50" x2="1095.50" y2="842.50" stroke="#262626" stroke-width="1.0" />
<text y="876.10" style="font-size:22.08px;fill:#262626"><tspan x="1081.15" textLength="26.51" lengthAdjust="spacingAndGlyphs">12</tspan></text>
<line x1="1113.50" y1="847.50" x2="1113.50" y2="842.50" stroke="#262626" stroke-width="1.0" />
<line x1="1132.50" y1="847.50" x2="1132.50" y2="842.50" stroke="#262626" stroke-width="1.0" />
<line x1="1151.50" y1="847.50" x2="1151.50" y2="842.50" stroke="#262626" stroke-width="1.0" />
<text y="876.10" style="font-size:22.08px;fill:#262626"><tspan x="1137.77" textLength="26.51" lengthAdjust="spacingAndGlyphs">15</tspan></text>
<line x1="1170.50" y1="847.50" x2="1170.50" y2="842.50" stroke="#262626" stroke-width="1.0" />
<line x1="1189.50" y1="847.50" x2="1189.50" y2="842.50" stroke="#262626" stroke-width="1.0" />
<line x1="1208.50" y1="847.50" x2="1208.50" y2="842.50" stroke="#262626" stroke-width="1.0" />
<text y="876.10" style="font-size:22.08px;fill:#262626"><tspan x="1194.40" textLength="26.51" lengthAdjust="spacingAndGlyphs">18</tspan></text>
<line x1="1227.50" y1="847.50" x2="1227.50" y2="842.50" stroke="#262626" stroke-width="1.0" />
<line x1="1246.50" y1="847.50" x2="1246.50" y2="842.50" stroke="#262626" stroke-width="1.0" />
<line x1="1264.50" y1="847.50" x2="1264.50" y2="842.50" stroke="#262626" stroke-width="1.0" />
<text y="876.10" style="font-size:22.08px;fill:#262626"><tspan x="1251.02" textLength="26.51" lengthAdjust="spacingAndGlyphs">21</tspan></text>
<line x1="1283.50" y1="847.50" x2="1283.50" y2="842.50" stroke="#262626" stroke-width="1.0" />
<line x1="1302.50" y1="847.50" x2="1302.50" y2="842.50" stroke="#262626" stroke-width="1.0" />
<line x1="1321.50" y1="847.50" x2="1321.50" y2="842.50" stroke="#262626" stroke-width="1.0" />
<text y="876.10" style="font-size:22.08px;fill:#262626"><tspan x="1307.65" textLength="26.51" lengthAdjust="spacingAndGlyphs">24</tspan></text>
<text y="605.90" style="font-size:17.50px;font-weight:bold;fill:#1a1a1a"><tspan x="1329.95" textLength="54.03" lengthAdjust="spacingAndGlyphs">dB/dT</tspan><tspan x="1389.79" textLength="46.11" lengthAdjust="spacingAndGlyphs">Alert</tspan></text>
<text y="760.80" style="font-size:17.50px;font-weight:bold;fill:#0000ff"><tspan x="1329.67" textLength="12.71" lengthAdjust="spacingAndGlyphs">B</tspan><tspan x="1348.18" textLength="46.11" lengthAdjust="spacingAndGlyphs">Alert</tspan></text>
<rect x="953.20" y="532.80" width="111.00" height="39.80" fill="#ffffff" stroke="#00ffff" stroke-width="1.6"/>
<text y="560.10" style="font-size:21.87px;fill:#000000"><tspan x="959.74" textLength="47.06" lengthAdjust="spacingAndGlyphs">time</tspan><tspan x="1013.42" textLength="42.98" lengthAdjust="spacingAndGlyphs">now</tspan></text>
<rect x="1465.00" y="537.50" width="111.80" height="309.50" fill="#eeeeee" />
<rect x="1466.00" y="537.50" width="110.80" height="308.50" fill="#e5e5e5" />
<rect x="1821.70" y="537.50" width="92.80" height="309.50" fill="#eeeeee" />
<rect x="1821.70" y="537.50" width="92.80" height="308.50" fill="#e5e5e5" />
<line x1="1464.50" y1="692.50" x2="1914.50" y2="692.50" stroke="#000000" stroke-width="1.0" />
<rect x="1552.70" y="754.20" width="6.00" height="31.30" fill="#00ff00" />
<line x1="1555.30" y1="537.50" x2="1555.30" y2="847.50" stroke="#00ffff" stroke-width="3.0" />
<line x1="1464.50" y1="537.50" x2="1464.50" y2="848.00" stroke="#262626" stroke-width="1.0" />
<line x1="1464.00" y1="847.50" x2="1915.00" y2="847.50" stroke="#262626" stroke-width="1.0" />
<line x1="1464.50" y1="537.50" x2="1469.50" y2="537.50" stroke="#262626" stroke-width="1.0" />
<line x1="1464.50" y1="615.50" x2="1469.50" y2="615.50" stroke="#262626" stroke-width="1.0" />
<line x1="1464.50" y1="692.50" x2="1469.50" y2="692.50" stroke="#262626" stroke-width="1.0" />
<line x1="1464.50" y1="770.50" x2="1469.50" y2="770.50" stroke="#262626" stroke-width="1.0" />
<line x1="1464.50" y1="847.50" x2="1469.50" y2="847.50" stroke="#262626" stroke-width="1.0" />
<text y="876.10" style="font-size:22.08px;fill:#262626"><tspan x="1457.27" textLength="13.25" lengthAdjust="spacingAndGlyphs">0</tspan></text>
<line x1="1483.50" y1="847.50" x2="1483.50" y2="842.50" stroke="#262626" stroke-width="1.0" />
<line x1="1502.50" y1="847.50" x2="1502.50" y2="842.50" stroke="#262626" stroke-width="1.0" />
<line x1="1520.50" y1="847.50" x2="1520.50" y2="842.50" stroke="#262626" stroke-width="1.0" />
<text y="876.10" style="font-size:22.08px;fill:#262626"><tspan x="1513.52" textLength="13.25" lengthAdjust="spacingAndGlyphs">3</tspan></text>
<line x1="1539.50" y1="847.50" x2="1539.50" y2="842.50" stroke="#262626" stroke-width="1.0" />
<line x1="1558.50" y1="847.50" x2="1558.50" y2="842.50" stroke="#262626" stroke-width="1.0" />
<line x1="1577.50" y1="847.50" x2="1577.50" y2="842.50" stroke="#262626" stroke-width="1.0" />
<text y="876.10" style="font-size:22.08px;fill:#262626"><tspan x="1569.77" textLength="13.25" lengthAdjust="spacingAndGlyphs">6</tspan></text>
<line x1="1595.50" y1="847.50" x2="1595.50" y2="842.50" stroke="#262626" stroke-width="1.0" />
<line x1="1614.50" y1="847.50" x2="1614.50" y2="842.50" stroke="#262626" stroke-width="1.0" />
<line x1="1633.50" y1="847.50" x2="1633.50" y2="842.50" stroke="#262626" stroke-width="1.0" />
<text y="876.10" style="font-size:22.08px;fill:#262626"><tspan x="1626.02" textLength="13.25" lengthAdjust="spacingAndGlyphs">9</tspan></text>
<line x1="1652.50" y1="847.50" x2="1652.50" y2="842.50" stroke="#262626" stroke-width="1.0" />
<line x1="1670.50" y1="847.50" x2="1670.50" y2="842.50" stroke="#262626" stroke-width="1.0" />
<line x1="1689.50" y1="847.50" x2="1689.50" y2="842.50" stroke="#262626" stroke-width="1.0" />
<text y="876.10" style="font-size:22.08px;fill:#262626"><tspan x="1675.65" textLength="26.51" lengthAdjust="spacingAndGlyphs">12</tspan></text>
<line x1="1708.50" y1="847.50" x2="1708.50" y2="842.50" stroke="#262626" stroke-width="1.0" />
<line x1="1727.50" y1="847.50" x2="1727.50" y2="842.50" stroke="#262626" stroke-width="1.0" />
<line x1="1745.50" y1="847.50" x2="1745.50" y2="842.50" stroke="#262626" stroke-width="1.0" />
<text y="876.10" style="font-size:22.08px;fill:#262626"><tspan x="1731.90" textLength="26.51" lengthAdjust="spacingAndGlyphs">15</tspan></text>
<line x1="1764.50" y1="847.50" x2="1764.50" y2="842.50" stroke="#262626" stroke-width="1.0" />
<line x1="1783.50" y1="847.50" x2="1783.50" y2="842.50" stroke="#262626" stroke-width="1.0" />
<line x1="1802.50" y1="847.50" x2="1802.50" y2="842.50" stroke="#262626" stroke-width="1.0" />
<text y="876.10" style="font-size:22.08px;fill:#262626"><tspan x="1788.15" textLength="26.51" lengthAdjust="spacingAndGlyphs">18</tspan></text>
<line x1="1820.50" y1="847.50" x2="1820.50" y2="842.50" stroke="#262626" stroke-width="1.0" />
<line x1="1839.50" y1="847.50" x2="1839.50" y2="842.50" stroke="#262626" stroke-width="1.0" />
<line x1="1858.50" y1="847.50" x2="1858.50" y2="842.50" stroke="#262626" stroke-width="1.0" />
<text y="876.10" style="font-size:22.08px;fill:#262626"><tspan x="1844.40" textLength="26.51" lengthAdjust="spacingAndGlyphs">21</tspan></text>
<line x1="1877.50" y1="847.50" x2="1877.50" y2="842.50" stroke="#262626" stroke-width="1.0" />
<line x1="1895.50" y1="847.50" x2="1895.50" y2="842.50" stroke="#262626" stroke-width="1.0" />
<line x1="1914.50" y1="847.50" x2="1914.50" y2="842.50" stroke="#262626" stroke-width="1.0" />
<text y="876.10" style="font-size:22.08px;fill:#262626"><tspan x="1900.65" textLength="26.51" lengthAdjust="spacingAndGlyphs">24</tspan></text>
<rect x="1548.70" y="532.80" width="111.00" height="39.80" fill="#ffffff" stroke="#00ffff" stroke-width="1.6"/>
<text y="560.10" style="font-size:21.87px;fill:#000000"><tspan x="1555.24" textLength="47.06" lengthAdjust="spacingAndGlyphs">time</tspan><tspan x="1608.92" textLength="42.98" lengthAdjust="spacingAndGlyphs">now</tspan></text>
<rect x="268.30" y="881.70" width="159.30" height="40.30" fill="#00ff00" />
<rect x="432.00" y="881.70" width="196.90" height="40.30" fill="#ffff00" />
<rect x="628.90" y="881.70" width="165.80" height="40.30" fill="#ff0000" />
<text y="909.00" style="font-size:21.87px;fill:#000000"><tspan x="274.21" textLength="60.59" lengthAdjust="spacingAndGlyphs">minor</tspan><tspan x="341.42" textLength="76.78" lengthAdjust="spacingAndGlyphs">activity</tspan></text>
<text y="909.00" style="font-size:21.87px;fill:#000000"><tspan x="437.91" textLength="101.38" lengthAdjust="spacingAndGlyphs">moderate</tspan><tspan x="545.91" textLength="76.78" lengthAdjust="spacingAndGlyphs">activity</tspan></text>
<text y="909.00" style="font-size:21.87px;fill:#000000"><tspan x="635.57" textLength="66.75" lengthAdjust="spacingAndGlyphs">strong</tspan><tspan x="708.94" textLength="76.78" lengthAdjust="spacingAndGlyphs">activity</tspan></text>
<rect x="1252.10" y="881.60" width="194.70" height="40.50" fill="#00ff00" />
<text y="908.80" style="font-size:21.87px;fill:#000000"><tspan x="1258.43" textLength="79.06" lengthAdjust="spacingAndGlyphs">Current</tspan><tspan x="1344.11" textLength="94.36" lengthAdjust="spacingAndGlyphs">Warning:</tspan></text>
<rect x="1449.00" y="876.60" width="94.50" height="50.40" fill="#00ff00" />
<text y="911.90" style="font-size:32.81px;fill:#000000"><tspan x="1455.77" textLength="80.11" lengthAdjust="spacingAndGlyphs">1.3/9</tspan></text>
<rect x="276.00" y="934.90" width="407.88" height="331.10" fill="#eeeeee" />
<rect x="277.00" y="934.90" width="406.88" height="330.10" fill="#e5e5e5" />
<rect x="1573.80" y="934.90" width="340.70" height="331.10" fill="#eeeeee" />
<rect x="1573.80" y="934.90" width="340.70" height="330.10" fill="#e5e5e5" />
<rect x="559.50" y="1241.50" width="12.00" height="25.00" fill="#00ff00" stroke="#000000" stroke-width="1.1"/>
<rect x="571.50" y="1241.50" width="11.00" height="25.00" fill="#00ff00" stroke="#000000" stroke-width="1.1"/>
<rect x="582.50" y="1241.50" width="11.00" height="25.00" fill="#00ff00" stroke="#000000" stroke-width="1.1"/>
<rect x="593.50" y="1217.50" width="11.00" height="49.00" fill="#00ff00" stroke="#000000" stroke-width="1.1"/>
<line x1="605.30" y1="934.90" x2="605.30" y2="1266.50" stroke="#00ffff" stroke-width="3.0" />
<line x1="275.50" y1="934.90" x2="275.50" y2="1267.00" stroke="#262626" stroke-width="1.0" />
<line x1="275.00" y1="1266.50" x2="1915.00" y2="1266.50" stroke="#262626" stroke-width="1.0" />
<text y="1274.00" style="font-size:22.08px;fill:#262626"><tspan x="252.05" textLength="13.25" lengthAdjust="spacingAndGlyphs">0</tspan></text>
<line x1="275.50" y1="1192.50" x2="292.50" y2="1192.50" stroke="#262626" stroke-width="1.0" />
<text y="1200.31" style="font-size:22.08px;fill:#262626"><tspan x="252.05" textLength="13.25" lengthAdjust="spacingAndGlyphs">2</tspan></text>
<line x1="275.50" y1="1119.50" x2="292.50" y2="1119.50" stroke="#262626" stroke-width="1.0" />
<text y="1126.62" style="font-size:22.08px;fill:#262626"><tspan x="252.05" textLength="13.25" lengthAdjust="spacingAndGlyphs">4</tspan></text>
<line x1="275.50" y1="1045.50" x2="292.50" y2="1045.50" stroke="#262626" stroke-width="1.0" />
<text y="1052.93" style="font-size:22.08px;fill:#262626"><tspan x="252.05" textLength="13.25" lengthAdjust="spacingAndGlyphs">6</tspan></text>
<line x1="275.50" y1="971.50" x2="292.50" y2="971.50" stroke="#262626" stroke-width="1.0" />
<text y="979.24" style="font-size:22.08px;fill:#262626"><tspan x="252.05" textLength="13.25" lengthAdjust="spacingAndGlyphs">8</tspan></text>
<text y="1294.40" style="font-size:22.08px;fill:#262626"><tspan x="268.37" textLength="13.25" lengthAdjust="spacingAndGlyphs">0</tspan></text>
<line x1="343.50" y1="1266.50" x2="343.50" y2="1249.50" stroke="#262626" stroke-width="1.0" />
<text y="1294.40" style="font-size:22.08px;fill:#262626"><tspan x="336.67" textLength="13.25" lengthAdjust="spacingAndGlyphs">1</tspan></text>
<line x1="412.50" y1="1266.50" x2="412.50" y2="1249.50" stroke="#262626" stroke-width="1.0" />
<text y="1294.40" style="font-size:22.08px;fill:#262626"><tspan x="404.96" textLength="13.25" lengthAdjust="spacingAndGlyphs">2</tspan></text>
<line x1="480.50" y1="1266.50" x2="480.50" y2="1249.50" stroke="#262626" stroke-width="1.0" />
<text y="1294.40" style="font-size:22.08px;fill:#262626"><tspan x="473.25" textLength="13.25" lengthAdjust="spacingAndGlyphs">3</tspan></text>
<line x1="548.50" y1="1266.50" x2="548.50" y2="1249.50" stroke="#262626" stroke-width="1.0" />
<text y="1294.40" style="font-size:22.08px;fill:#262626"><tspan x="541.54" textLength="13.25" lengthAdjust="spacingAndGlyphs">4</tspan></text>
<line x1="616.50" y1="1266.50" x2="616.50" y2="1249.50" stroke="#262626" stroke-width="1.0" />
<text y="1294.40" style="font-size:22.08px;fill:#262626"><tspan x="609.83" textLength="13.25" lengthAdjust="spacingAndGlyphs">5</tspan></text>
<line x1="685.50" y1="1266.50" x2="685.50" y2="1249.50" stroke="#262626" stroke-width="1.0" />
<text y="1294.40" style="font-size:22.08px;fill:#262626"><tspan x="678.12" textLength="13.25" lengthAdjust="spacingAndGlyphs">6</tspan></text>
<line x1="753.50" y1="1266.50" x2="753.50" y2="1249.50" stroke="#262626" stroke-width="1.0" />
<text y="1294.40" style="font-size:22.08px;fill:#262626"><tspan x="746.42" textLength="13.25" lengthAdjust="spacingAndGlyphs">7</tspan></text>
<line x1="821.50" y1="1266.50" x2="821.50" y2="1249.50" stroke="#262626" stroke-width="1.0" />
<text y="1294.40" style="font-size:22.08px;fill:#262626"><tspan x="814.71" textLength="13.25" lengthAdjust="spacingAndGlyphs">8</tspan></text>
<line x1="890.50" y1="1266.50" x2="890.50" y2="1249.50" stroke="#262626" stroke-width="1.0" />
<text y="1294.40" style="font-size:22.08px;fill:#262626"><tspan x="883.00" textLength="13.25" lengthAdjust="spacingAndGlyphs">9</tspan></text>
<line x1="958.50" y1="1266.50" x2="958.50" y2="1249.50" stroke="#262626" stroke-width="1.0" />
<text y="1294.40" style="font-size:22.08px;fill:#262626"><tspan x="944.66" textLength="26.51" lengthAdjust="spacingAndGlyphs">10</tspan></text>
<line x1="1026.50" y1="1266.50" x2="1026.50" y2="1249.50" stroke="#262626" stroke-width="1.0" />
<text y="1294.40" style="font-size:22.08px;fill:#262626"><tspan x="1012.96" textLength="26.51" lengthAdjust="spacingAndGlyphs">11</tspan></text>
<line x1="1095.50" y1="1266.50" x2="1095.50" y2="1249.50" stroke="#262626" stroke-width="1.0" />
<text y="1294.40" style="font-size:22.08px;fill:#262626"><tspan x="1081.25" textLength="26.51" lengthAdjust="spacingAndGlyphs">12</tspan></text>
<line x1="1163.50" y1="1266.50" x2="1163.50" y2="1249.50" stroke="#262626" stroke-width="1.0" />
<text y="1294.40" style="font-size:22.08px;fill:#262626"><tspan x="1149.54" textLength="26.51" lengthAdjust="spacingAndGlyphs">13</tspan></text>
<line x1="1231.50" y1="1266.50" x2="1231.50" y2="1249.50" stroke="#262626" stroke-width="1.0" />
<text y="1294.40" style="font-size:22.08px;fill:#262626"><tspan x="1217.83" textLength="26.51" lengthAdjust="spacingAndGlyphs">14</tspan></text>
<line x1="1299.50" y1="1266.50" x2="1299.50" y2="1249.50" stroke="#262626" stroke-width="1.0" />
<text y="1294.40" style="font-size:22.08px;fill:#262626"><tspan x="1286.12" textLength="26.51" lengthAdjust="spacingAndGlyphs">15</tspan></text>
<line x1="1368.50" y1="1266.50" x2="1368.50" y2="1249.50" stroke="#262626" stroke-width="1.0" />
<text y="1294.40" style="font-size:22.08px;fill:#262626"><tspan x="1354.41" textLength="26.51" lengthAdjust="spacingAndGlyphs">16</tspan></text>
<line x1="1436.50" y1="1266.50" x2="1436.50" y2="1249.50" stroke="#262626" stroke-width="1.0" />
<text y="1294.40" style="font-size:22.08px;fill:#262626"><tspan x="1422.71" textLength="26.51" lengthAdjust="spacingAndGlyphs">17</tspan></text>
<line x1="1504.50" y1="1266.50" x2="1504.50" y2="1249.50" stroke="#262626" stroke-width="1.0" />
<text y="1294.40" style="font-size:22.08px;fill:#262626"><tspan x="1491.00" textLength="26.51" lengthAdjust="spacingAndGlyphs">18</tspan></text>
<line x1="1573.50" y1="1266.50" x2="1573.50" y2="1249.50" stroke="#262626" stroke-width="1.0" />
<text y="1294.40" style="font-size:22.08px;fill:#262626"><tspan x="1559.29" textLength="26.51" lengthAdjust="spacingAndGlyphs">19</tspan></text>
<line x1="1641.50" y1="1266.50" x2="1641.50" y2="1249.50" stroke="#262626" stroke-width="1.0" />
<text y="1294.40" style="font-size:22.08px;fill:#262626"><tspan x="1627.58" textLength="26.51" lengthAdjust="spacingAndGlyphs">20</tspan></text>
<line x1="1709.50" y1="1266.50" x2="1709.50" y2="1249.50" stroke="#262626" stroke-width="1.0" />
<text y="1294.40" style="font-size:22.08px;fill:#262626"><tspan x="1695.87" textLength="26.51" lengthAdjust="spacingAndGlyphs">21</tspan></text>
<line x1="1777.50" y1="1266.50" x2="1777.50" y2="1249.50" stroke="#262626" stroke-width="1.0" />
<text y="1294.40" style="font-size:22.08px;fill:#262626"><tspan x="1764.16" textLength="26.51" lengthAdjust="spacingAndGlyphs">22</tspan></text>
<line x1="1846.50" y1="1266.50" x2="1846.50" y2="1249.50" stroke="#262626" stroke-width="1.0" />
<text y="1294.40" style="font-size:22.08px;fill:#262626"><tspan x="1832.46" textLength="26.51" lengthAdjust="spacingAndGlyphs">23</tspan></text>
<line x1="1914.50" y1="1266.50" x2="1914.50" y2="1249.50" stroke="#262626" stroke-width="1.0" />
<text transform="translate(239.70,1100.70) rotate(-90)" y="0" style="font-size:24.07px;fill:#262626"><tspan x="-89.84" textLength="96.10" lengthAdjust="spacingAndGlyphs">Warning</tspan><tspan x="13.54" textLength="76.66" lengthAdjust="spacingAndGlyphs">Values</tspan></text>
<text y="1327.00" style="font-size:24.07px;fill:#262626"><tspan x="1021.27" textLength="56.80" lengthAdjust="spacingAndGlyphs">Time</tspan><tspan x="1085.35" textLength="46.78" lengthAdjust="spacingAndGlyphs">UTC</tspan><tspan x="1139.41" textLength="7.72" lengthAdjust="spacingAndGlyphs">/</tspan><tspan x="1154.42" textLength="14.53" lengthAdjust="spacingAndGlyphs">h</tspan></text>
<text y="1358.80" style="font-size:21.87px;fill:#000000"><tspan x="848.06" textLength="43.39" lengthAdjust="spacingAndGlyphs">Last</tspan><tspan x="898.07" textLength="93.63" lengthAdjust="spacingAndGlyphs">updated:</tspan><tspan x="998.32" textLength="43.92" lengthAdjust="spacingAndGlyphs">Mon</tspan><tspan x="1048.86" textLength="26.51" lengthAdjust="spacingAndGlyphs">12</tspan><tspan x="1081.99" textLength="32.11" lengthAdjust="spacingAndGlyphs">Jan</tspan><tspan x="1120.72" textLength="53.01" lengthAdjust="spacingAndGlyphs">2026</tspan><tspan x="1180.35" textLength="93.55" lengthAdjust="spacingAndGlyphs">17:50:37</tspan><tspan x="1280.52" textLength="58.61" lengthAdjust="spacingAndGlyphs">NZDT</tspan></text>
<rect x="598.80" y="933.40" width="110.40" height="39.90" fill="#ffffff" stroke="#00ffff" stroke-width="1.6"/>
<text y="961.00" style="font-size:21.87px;fill:#000000"><tspan x="605.24" textLength="47.06" lengthAdjust="spacingAndGlyphs">time</tspan><tspan x="658.92" textLength="42.98" lengthAdjust="spacingAndGlyphs">now</tspan></text>
</svg>
</body></html>
